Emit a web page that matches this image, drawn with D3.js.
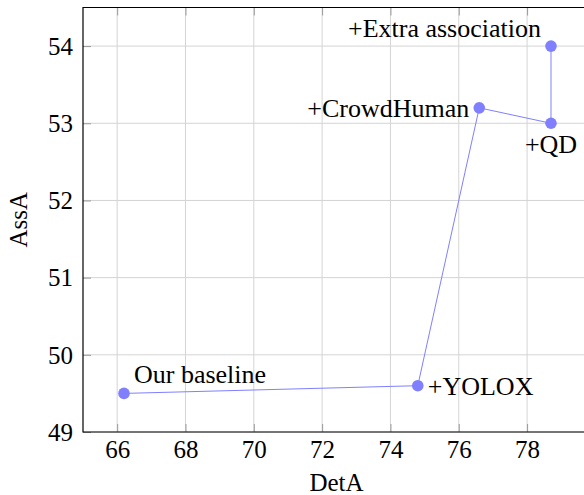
<!DOCTYPE html>
<html>
<head>
<meta charset="utf-8">
<script src="https://cdn.jsdelivr.net/npm/d3@7"></script>
<style>
  html, body { margin: 0; padding: 0; background: #fff; }
  svg { display: block; }
  svg text { font-family: "Liberation Serif", "Times New Roman", serif !important; fill: #000; }
</style>
</head>
<body>
<svg id="chart" width="584" height="495"></svg>
<script>
// ---- data ----
const labels = ["Our baseline", "+YOLOX", "+CrowdHuman", "+QD", "+Extra association"];
const detA   = [66.2, 74.8, 76.6, 78.7, 78.7];
const assA   = [49.5, 49.6, 53.2, 53.0, 54.0];
const labelPos = ["above right", "right", "left", "below", "above left"];
const xTicks = [66, 68, 70, 72, 74, 76, 78];
const yTicks = [49, 50, 51, 52, 53, 54];
const xTitle = "DetA";
const yTitle = "AssA";

(function () {
// ---- layout ----
const svg = d3.select("#chart");
const pLeft = 83, pTop = 7.5, pBottom = 432, pRight = 595.4;
const x = d3.scaleLinear().domain([65, 80]).range([pLeft, pRight]);
const y = d3.scaleLinear().domain([49, 54.5]).range([pBottom, pTop]);
const markColor = "#8080ff";
const tickLen = 8;
const serif = "'Liberation Serif', 'Times New Roman', serif";

// grid
const g = svg.append("g");
g.selectAll(".gx").data(xTicks).enter().append("line")
  .attr("x1", d => x(d)).attr("x2", d => x(d))
  .attr("y1", pTop).attr("y2", pBottom)
  .attr("stroke", "#d4d4d4").attr("stroke-width", 1);
g.selectAll(".gy").data(yTicks).enter().append("line")
  .attr("x1", pLeft).attr("x2", pRight)
  .attr("y1", d => y(d)).attr("y2", d => y(d))
  .attr("stroke", "#d4d4d4").attr("stroke-width", 1);

// axes via d3 (inner ticks)
const fmt = d3.format("d");
const xAxis = d3.axisBottom(x).tickValues(xTicks).tickFormat(fmt).tickSizeInner(-tickLen).tickSizeOuter(0).tickPadding(8);
const yAxis = d3.axisLeft(y).tickValues(yTicks).tickFormat(fmt).tickSizeInner(-tickLen).tickSizeOuter(0).tickPadding(10);
const xTop = d3.axisTop(x).tickValues(xTicks).tickSizeInner(-tickLen).tickSizeOuter(0).tickFormat("");

const gx = svg.append("g").attr("transform", `translate(0,${pBottom})`).call(xAxis);
const gy = svg.append("g").attr("transform", `translate(${pLeft},0)`).call(yAxis);
const gt = svg.append("g").attr("transform", `translate(0,${pTop})`).call(xTop);
[gx, gy, gt].forEach(a => {
  a.attr("font-family", null).attr("font-size", null);
  a.select(".domain").remove();
  a.selectAll(".tick line").attr("stroke", "#9a9a9a").attr("stroke-width", 1);
  a.selectAll(".tick text").style("font-family", serif).style("font-size", "25px").attr("fill", "#000");
});
gx.selectAll(".tick text").attr("dy", "0.71em");
gy.selectAll(".tick text").attr("dy", "0.33em");

// frame (right side clipped beyond view)
svg.append("path")
  .attr("d", `M${pRight},${pTop}H${pLeft}V${pBottom}H${pRight}`)
  .attr("fill", "none").attr("stroke", "#000").attr("stroke-width", 1.2);

// axis titles
svg.append("text").attr("x", (pLeft + 590) / 2).attr("y", 491)
  .attr("text-anchor", "middle").style("font-size", "25px").text(xTitle);
svg.append("text").attr("transform", `translate(27,${(pTop + pBottom) / 2}) rotate(-90)`)
  .attr("text-anchor", "middle").style("font-size", "25px").text(yTitle);

// line + markers
const pts = detA.map((d, i) => ({ x: d, y: assA[i], label: labels[i], pos: labelPos[i] }));
svg.append("path").datum(pts)
  .attr("d", d3.line().x(d => x(d.x)).y(d => y(d.y)))
  .attr("fill", "none").attr("stroke", markColor).attr("stroke-width", 1);
svg.selectAll(".pt").data(pts).enter().append("circle")
  .attr("cx", d => x(d.x)).attr("cy", d => y(d.y)).attr("r", 5.8)
  .attr("fill", markColor);

// annotations
const off = {
  "above right": { dx: 10, dy: -10, anchor: "start" },
  "right":       { dx: 10, dy: 9, anchor: "start" },
  "left":        { dx: -10, dy: 9, anchor: "end" },
  "below":       { dx: 0, dy: 30, anchor: "middle" },
  "above left":  { dx: -10, dy: -9, anchor: "end" }
};
svg.selectAll(".lbl").data(pts).enter().append("text")
  .attr("x", d => x(d.x) + off[d.pos].dx)
  .attr("y", d => y(d.y) + off[d.pos].dy)
  .attr("text-anchor", d => off[d.pos].anchor)
  .style("font-size", "26px")
  .text(d => d.label);
})();
</script>
</body>
</html>
